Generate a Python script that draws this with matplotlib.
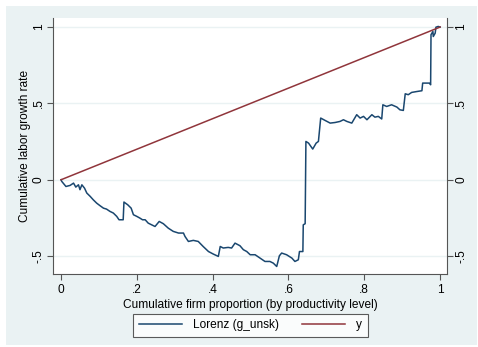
import numpy as np
import matplotlib
matplotlib.use("Agg")
import matplotlib.pyplot as plt
from matplotlib import patches

plt.rcParams['font.family'] = ['Liberation Sans', 'DejaVu Sans']

# cumulative firm share vs cumulative labor growth (Lorenz-type curve)
lorenz_x = [0, 0.002, 0.013, 0.024, 0.033, 0.039, 0.046, 0.05, 0.055, 0.062,
            0.068, 0.077, 0.085, 0.094, 0.103, 0.112, 0.12, 0.129, 0.138, 0.147,
            0.153, 0.164, 0.166, 0.176, 0.185, 0.191, 0.2, 0.208, 0.215, 0.222,
            0.23, 0.239, 0.248, 0.259, 0.27, 0.283, 0.296, 0.31, 0.323, 0.327,
            0.336, 0.349, 0.362, 0.375, 0.389, 0.402, 0.415, 0.42, 0.428, 0.441,
            0.45, 0.459, 0.472, 0.481, 0.49, 0.499, 0.512, 0.525, 0.538, 0.551,
            0.56, 0.569, 0.576, 0.582, 0.595, 0.609, 0.617, 0.626, 0.629, 0.638,
            0.639, 0.644, 0.646, 0.653, 0.664, 0.673, 0.679, 0.685, 0.697, 0.71,
            0.723, 0.736, 0.745, 0.754, 0.767, 0.78, 0.789, 0.798, 0.807, 0.82,
            0.828, 0.837, 0.846, 0.849, 0.859, 0.872, 0.886, 0.894, 0.903, 0.908,
            0.916, 0.925, 0.939, 0.952, 0.954, 0.972, 0.975, 0.976, 0.981, 0.982,
            0.987, 0.989, 0.995, 1.0]
lorenz_y = [0, -0.011, -0.044, -0.037, -0.022, -0.048, -0.033, -0.065, -0.033, -0.055,
            -0.087, -0.109, -0.131, -0.153, -0.170, -0.186, -0.192, -0.207, -0.218, -0.24,
            -0.262, -0.262, -0.146, -0.164, -0.186, -0.229, -0.24, -0.251, -0.262, -0.262,
            -0.284, -0.295, -0.306, -0.273, -0.288, -0.317, -0.338, -0.349, -0.349, -0.371,
            -0.404, -0.397, -0.404, -0.437, -0.47, -0.487, -0.502, -0.437, -0.447, -0.443,
            -0.447, -0.415, -0.432, -0.458, -0.47, -0.491, -0.491, -0.513, -0.535, -0.535,
            -0.546, -0.568, -0.498, -0.48, -0.491, -0.513, -0.535, -0.524, -0.47, -0.47,
            -0.295, -0.288, 0.251, 0.24, 0.201, 0.24, 0.251, 0.404, 0.388, 0.371,
            0.375, 0.382, 0.393, 0.382, 0.371, 0.426, 0.404, 0.415, 0.393, 0.426,
            0.410, 0.415, 0.398, 0.491, 0.48, 0.491, 0.476, 0.458, 0.454, 0.563,
            0.557, 0.572, 0.578, 0.583, 0.633, 0.633, 0.622, 0.95, 0.971, 0.938,
            0.96, 0.999, 1.004, 1.0]

# 45-degree reference line
eq_x = [0, 1]
eq_y = [0, 1]

xticks = [0, 0.2, 0.4, 0.6, 0.8, 1]
xticklabels = ['0', '.2', '.4', '.6', '.8', '1']
yticks = [-0.5, 0, 0.5, 1]
yticklabels = ['-.5', '0', '.5', '1']

navy = '#1a476f'
maroon = '#90353b'
bg = '#eaf2f3'
axcol = '#555555'
fs = 8.6

fig = plt.figure(figsize=(4.78, 3.47), dpi=100, facecolor='white')
fig.patches.append(patches.Rectangle((0.0126, 0.006), 0.986, 0.977,
                                     transform=fig.transFigure,
                                     facecolor=bg, edgecolor='none', zorder=-10))

ax = fig.add_axes([0.111, 0.210, 0.824, 0.738])
ax.set_facecolor('white')

ax.plot(lorenz_x, lorenz_y, color=navy, lw=1.1, label='Lorenz (g_unsk)')
ax.plot(eq_x, eq_y, color=maroon, lw=1.1, label='y')

ax.set_xlim(-0.021, 1.018)
ax.set_ylim(-0.618, 1.059)

for yv in yticks:
    ax.axhline(yv, color=bg, lw=1.0, zorder=0)

ax.set_xticks(xticks)
ax.set_xticklabels(xticklabels)
ax.set_yticks(yticks)
ax.set_yticklabels(yticklabels)
ax.tick_params(axis='both', colors=axcol, labelcolor='black', labelsize=fs,
               length=4, width=0.8, direction='out')
ax.tick_params(axis='x', pad=3)
ax.tick_params(axis='y', right=True, labelright=True, labelrotation=90, pad=2)
for lab in ax.get_yticklabels():
    lab.set_va('center')

ax.spines['top'].set_visible(False)
for s in ['left', 'right', 'bottom']:
    ax.spines[s].set_color(axcol)
    ax.spines[s].set_linewidth(0.8)

ax.set_xlabel('Cumulative firm proportion (by productivity level)', fontsize=fs, labelpad=2)
ax.set_ylabel('Cumulative labor growth rate', fontsize=fs, labelpad=1)

leg = fig.legend(loc='center', bbox_to_anchor=(0.524, 0.063), ncol=2,
                 fontsize=fs, handlelength=3.6, columnspacing=2.0,
                 frameon=True, fancybox=False, edgecolor='#333333',
                 borderpad=0.45, handletextpad=0.9)
leg.get_frame().set_linewidth(0.8)

fig.savefig('out.png', dpi=100)
